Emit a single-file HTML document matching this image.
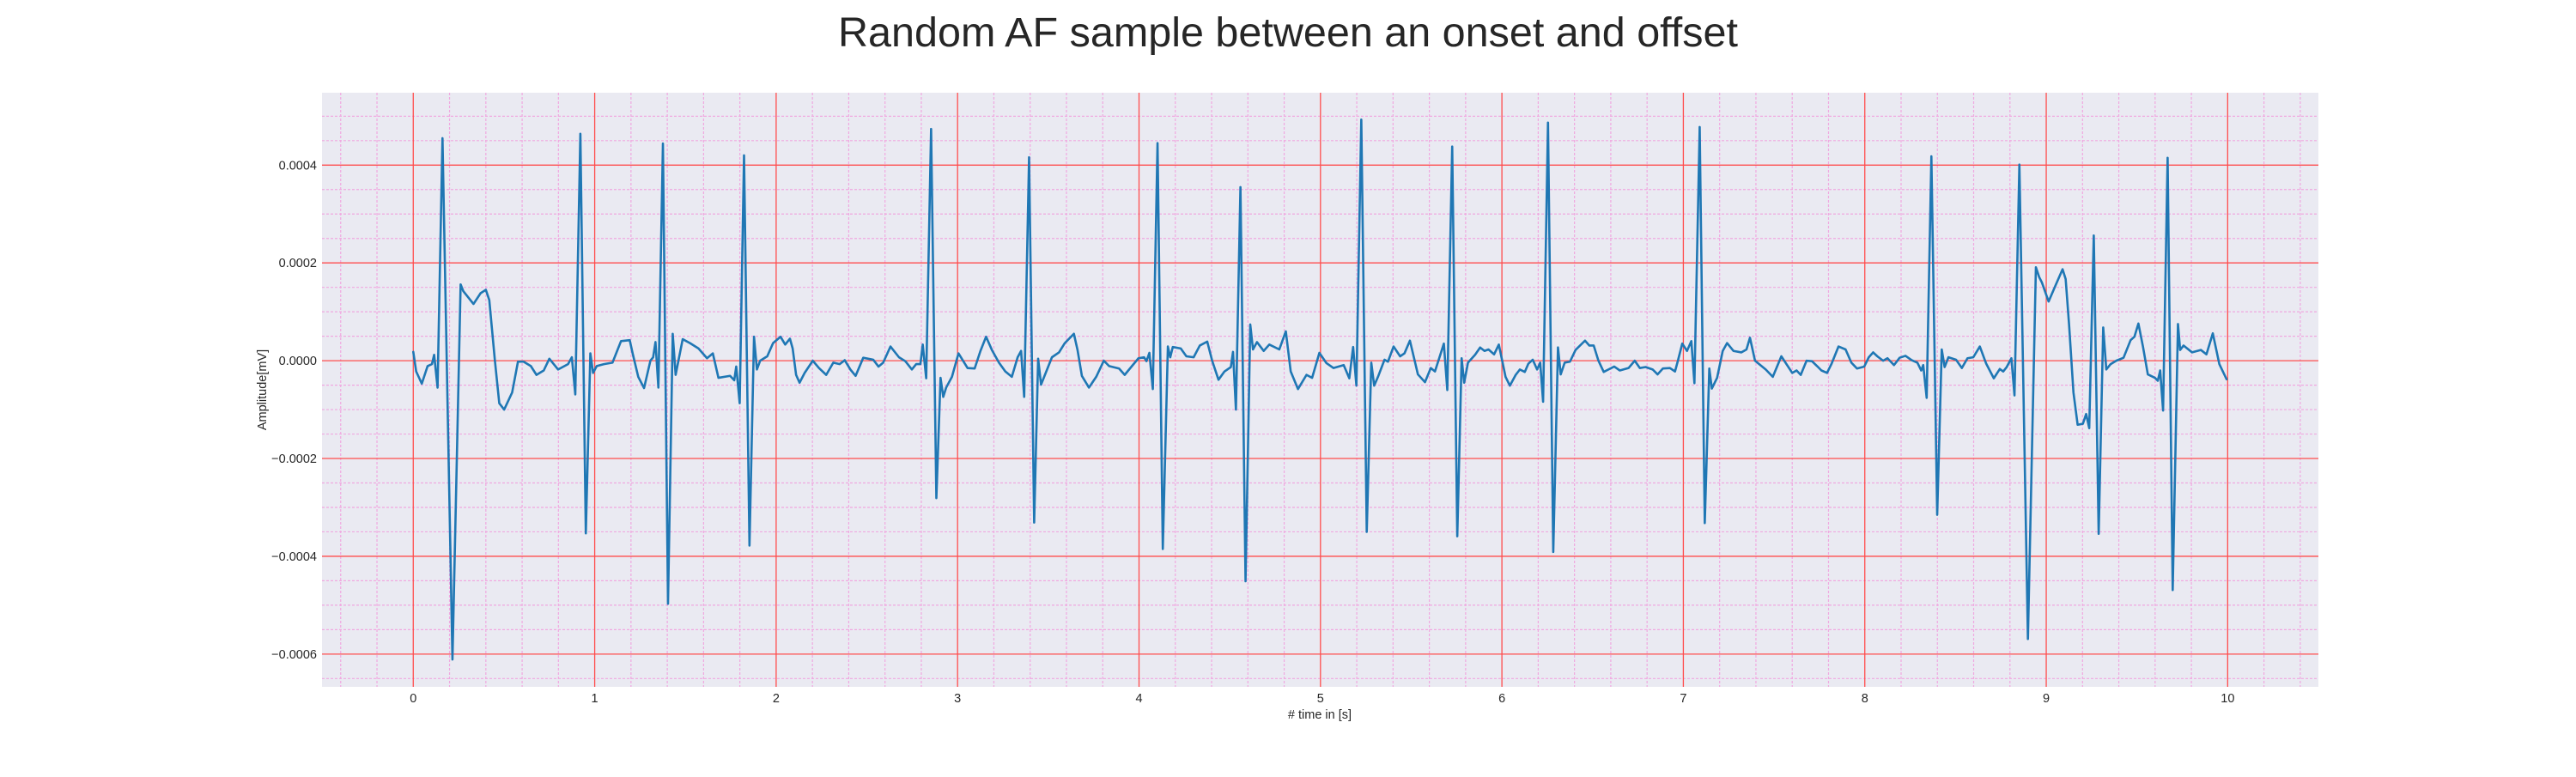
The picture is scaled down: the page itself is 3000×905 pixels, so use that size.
<!DOCTYPE html>
<html><head><meta charset="utf-8">
<style>
html,body{margin:0;padding:0;background:#fff;}
body{width:3000px;height:900px;overflow:hidden;font-family:"Liberation Sans",Arial,sans-serif;}
svg text{font-family:"Liberation Sans",Arial,sans-serif;fill:#262626;}
</style></head>
<body>
<svg id="chart" width="3000" height="900" viewBox="0 0 3000 900" xmlns="http://www.w3.org/2000/svg">
<text x="1500" y="54" font-size="48.5" text-anchor="middle">Random AF sample between an onset and offset</text>
<rect x="375" y="108" width="2325" height="692" fill="#eaeaf2"/>
<g id="minor-grid"></g>
<g id="major-grid"></g>
<g id="series"></g>
<g id="xticks"></g>
<g id="yticks"></g>
<text x="1537" y="837" font-size="14.5" text-anchor="middle"># time in [s]</text>
<text x="0" y="0" font-size="14.5" text-anchor="middle" transform="translate(310,454) rotate(-90)">Amplitude[mV]</text>
</svg>
<script>
const xTicks = [0,1,2,3,4,5,6,7,8,9,10];
const yTicks = [-0.0006,-0.0004,-0.0002,0,0.0002,0.0004];
const yTickLabels = ["\u22120.0006","\u22120.0004","\u22120.0002","0.0000","0.0002","0.0004"];
const timeValues = [0,0.016,0.047,0.079,0.103,0.115,0.134,0.161,0.216,0.261,0.276,0.332,0.371,0.400,0.419,0.45,0.474,0.501,0.545,0.577,0.608,0.648,0.679,0.719,0.75,0.798,0.853,0.874,0.893,0.921,0.951,0.976,0.991,1.011,1.051,1.098,1.145,1.193,1.209,1.24,1.272,1.307,1.322,1.335,1.351,1.376,1.404,1.43,1.446,1.485,1.525,1.572,1.619,1.651,1.682,1.746,1.769,1.78,1.799,1.823,1.853,1.878,1.894,1.912,1.951,1.983,
2.024,2.05,2.076,2.091,2.11,2.129,2.157,2.202,2.236,2.276,2.315,2.35,2.378,2.409,2.438,2.48,2.535,2.564,2.59,2.63,2.677,2.712,2.748,2.772,2.795,2.808,2.827,2.854,2.883,2.906,2.921,2.937,2.969,3.005,3.055,3.094,3.126,3.157,3.189,3.228,3.263,3.299,3.331,3.35,3.367,3.394,3.422,3.444,3.46,3.52,3.559,3.591,3.641,3.661,3.685,3.724,3.764,3.806,3.835,3.89,3.921,3.961,3.997,4.028,4.041,4.057,
4.076,4.102,4.131,4.159,4.172,4.186,4.23,4.261,4.301,4.335,4.376,4.403,4.438,4.471,4.506,4.518,4.534,4.559,4.587,4.613,4.628,4.65,4.687,4.718,4.773,4.809,4.836,4.876,4.923,4.954,4.994,5.033,5.072,5.128,5.159,5.18,5.198,5.225,5.255,5.28,5.296,5.317,5.353,5.372,5.403,5.439,5.463,5.493,5.537,5.576,5.608,5.631,5.663,5.68,5.699,5.726,5.754,5.778,5.792,5.813,5.852,5.88,5.904,5.926,5.957,5.983,
6.02,6.044,6.076,6.099,6.126,6.146,6.17,6.194,6.211,6.227,6.254,6.283,6.309,6.324,6.346,6.375,6.406,6.458,6.482,6.506,6.532,6.561,6.587,6.619,6.65,6.698,6.732,6.76,6.792,6.831,6.858,6.887,6.926,6.954,6.97,6.994,7.02,7.044,7.061,7.09,7.118,7.143,7.157,7.186,7.217,7.241,7.276,7.32,7.348,7.367,7.395,7.454,7.493,7.54,7.6,7.624,7.647,7.679,7.709,7.737,7.761,7.792,7.816,7.855,7.894,7.926,7.957,7.997,
8.022,8.046,8.069,8.101,8.125,8.161,8.192,8.224,8.259,8.29,8.311,8.322,8.341,8.367,8.399,8.424,8.44,8.461,8.503,8.535,8.566,8.598,8.634,8.669,8.711,8.744,8.763,8.782,8.808,8.825,8.852,8.899,8.943,8.961,8.976,9.013,9.05,9.09,9.107,9.126,9.15,9.173,9.202,9.22,9.237,9.262,9.289,9.314,9.331,9.355,9.386,9.426,9.465,9.486,9.508,9.533,9.56,9.599,9.615,9.628,9.644,9.669,9.697,9.726,9.738,9.757,9.804,9.852,9.883,9.918,9.954,9.994];
const amplitudeValues = [0.18,-0.22,-0.47,-0.11,-0.07,0.12,-0.55,4.55,-6.11,1.56,1.42,1.16,1.38,1.45,1.24,0,-0.87,-1.0,-0.65,-0.02,-0.02,-0.11,-0.29,-0.2,0.04,-0.18,-0.07,0.07,-0.69,4.64,-3.53,0.15,-0.25,-0.11,-0.07,-0.04,0.4,0.42,0.15,-0.33,-0.56,0,0.07,0.38,-0.55,4.44,-4.97,0.55,-0.29,0.44,0.36,0.25,0.05,0.15,-0.35,-0.31,-0.4,-0.12,-0.87,4.2,-3.78,0.49,-0.18,0,0.09,0.36,
0.49,0.33,0.45,0.25,-0.29,-0.45,-0.25,0,-0.15,-0.29,-0.04,-0.07,0.01,-0.18,-0.31,0.06,0.02,-0.12,-0.04,0.29,0.07,-0.01,-0.18,-0.07,-0.07,0.33,-0.36,4.74,-2.81,-0.35,-0.74,-0.55,-0.33,0.15,-0.15,-0.16,0.2,0.49,0.22,-0.04,-0.22,-0.33,0.07,0.2,-0.74,4.16,-3.31,0.04,-0.49,0.07,0.17,0.36,0.55,0.22,-0.31,-0.55,-0.33,0,-0.11,-0.16,-0.29,-0.11,0.05,0.07,-0.01,0.16,
-0.58,4.45,-3.85,0.29,0.07,0.28,0.25,0.09,0.07,0.31,0.39,0,-0.39,-0.22,-0.13,0.18,-1.0,3.55,-4.51,0.74,0.23,0.38,0.2,0.33,0.23,0.6,-0.22,-0.58,-0.29,-0.35,0.16,-0.05,-0.15,-0.09,-0.36,0.28,-0.51,4.93,-3.5,-0.04,-0.51,-0.33,0.02,-0.02,0.29,0.09,0.15,0.41,-0.28,-0.44,-0.15,-0.22,0.15,0.35,-0.6,4.38,-3.59,0.05,-0.45,-0.04,0.12,0.27,0.2,0.23,0.13,0.33,
-0.33,-0.51,-0.29,-0.18,-0.23,-0.06,0.02,-0.18,-0.04,-0.84,4.87,-3.91,0.27,-0.28,-0.04,-0.02,0.22,0.41,0.31,0.31,0,-0.23,-0.18,-0.12,-0.2,-0.15,0,-0.15,-0.13,-0.18,-0.28,-0.16,-0.15,-0.22,0,0.35,0.2,0.4,-0.46,4.78,-3.32,-0.16,-0.57,-0.35,0.2,0.36,0.2,0.17,0.23,0.47,0,-0.18,-0.33,0.09,-0.25,-0.2,-0.29,0,-0.01,-0.11,-0.2,-0.25,-0.07,0.29,0.23,-0.04,-0.16,-0.12,
0.07,0.17,0.09,0,0.05,-0.09,0.06,0.1,0.01,-0.04,-0.2,-0.09,-0.76,4.18,-3.15,0.23,-0.13,0.07,0.02,-0.15,0.05,0.07,0.29,-0.06,-0.36,-0.17,-0.22,-0.13,0.05,-0.71,4.01,-5.69,1.91,1.71,1.6,1.21,1.53,1.87,1.67,0.73,-0.65,-1.31,-1.29,-1.09,-1.38,2.56,-3.54,0.68,-0.18,-0.07,0,0.06,0.42,0.49,0.76,0.29,-0.28,-0.35,-0.41,-0.2,-1.02,4.15,-4.69,0.75,0.22,0.31,0.17,0.22,0.13,0.56,-0.07,-0.38];
const ampScale = 1e-4;

const NS = "http://www.w3.org/2000/svg";
const PL = 375, PR = 2700, PT = 108, PB = 800;
const X0 = -0.503, X1 = 10.5, Y0 = -0.000667, Y1 = 0.000548;
function xs(t){ return PL + (t - X0) / (X1 - X0) * (PR - PL); }
function ys(v){ return PB - (v - Y0) / (Y1 - Y0) * (PB - PT); }
function mk(tag, attrs, parent){
  const el = document.createElementNS(NS, tag);
  for (const k in attrs) el.setAttribute(k, attrs[k]);
  parent.appendChild(el);
  return el;
}
const minorG = document.getElementById('minor-grid');
const majorG = document.getElementById('major-grid');
for (let i = -2; i <= 52; i++) {
  const t = i * 0.2;
  if (i % 5 === 0) continue;
  const x = xs(t);
  if (x < PL || x > PR) continue;
  const l = mk('line', {x1:x, x2:x, y1:PT, y2:PB, stroke:'#f0a8e0', 'stroke-width':1.2, 'stroke-dasharray':'3,2'}, minorG);
  
  
}
for (let i = -14; i <= 11; i++) {
  if (i % 4 === 0) continue;
  const y = ys(i * 0.00005);
  if (y < PT || y > PB) continue;
  const l = mk('line', {x1:PL, x2:PR, y1:y, y2:y, stroke:'#f0a8e0', 'stroke-width':1.2, 'stroke-dasharray':'3,2'}, minorG);
  
  
}
const xtG = document.getElementById('xticks');
xTicks.forEach(t => {
  const x = xs(t);
  const l = mk('line', {x1:x, x2:x, y1:PT, y2:PB, stroke:'#ff4d4d', 'stroke-width':1.3}, majorG);
  
  
  const tx = mk('text', {x:x, y:818, 'font-size':14.5, 'text-anchor':'middle'}, xtG);
  tx.textContent = String(t);
  
  
});
const ytG = document.getElementById('yticks');
yTicks.forEach((v, i) => {
  const y = ys(v);
  const l = mk('line', {x1:PL, x2:PR, y1:y, y2:y, stroke:'#ff4d4d', 'stroke-width':1.3}, majorG);
  
  
  const tx = mk('text', {x:369, y:y + 5, 'font-size':14.5, 'text-anchor':'end'}, ytG);
  tx.textContent = yTickLabels[i];
  
  
});
const pts = timeValues.map((t, i) => xs(t).toFixed(2) + ',' + ys(amplitudeValues[i] * ampScale).toFixed(2)).join(' ');
const line = mk('polyline', {points:pts, fill:'none', stroke:'#1f77b4', 'stroke-width':2.6, 'stroke-linejoin':'round', 'stroke-linecap':'round'}, document.getElementById('series'));


</script>
</body></html>
